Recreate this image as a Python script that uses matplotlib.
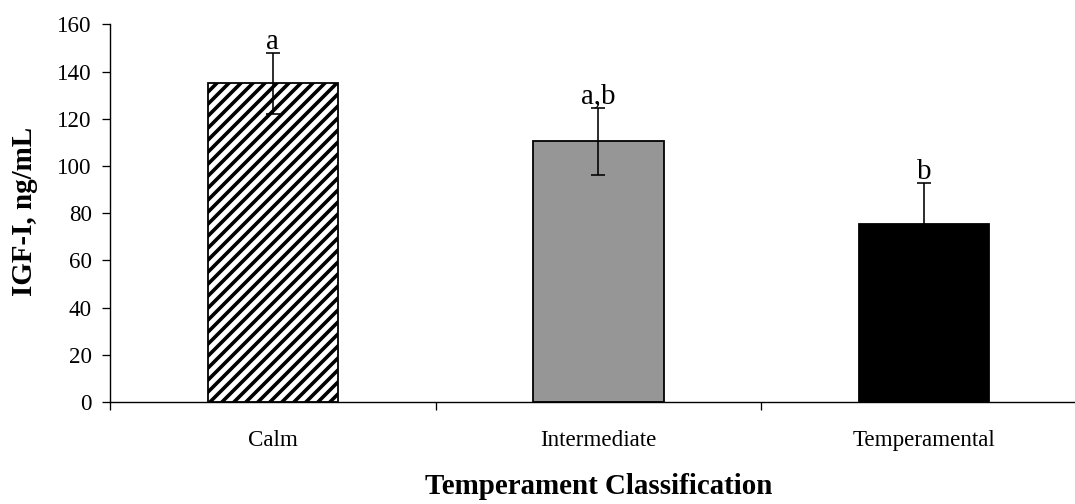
import numpy as np
import matplotlib
matplotlib.use("Agg")
import matplotlib.pyplot as plt

plt.rcParams['font.family'] = ['Liberation Serif', 'DejaVu Serif']
plt.rcParams['hatch.linewidth'] = 3.6

groups = ["Calm", "Intermediate", "Temperamental"]
igf = [135.0, 110.5, 75.5]
sem = [13.0, 14.3, 17.4]
letters = ["a", "a,b", "b"]

fills = ["white", "#969696", "black"]
hatches = ["//", None, None]

fig = plt.figure(figsize=(1075 / 72, 504 / 72), dpi=72)
ax = fig.add_axes([0.1023, 0.2024, 0.9088, 0.749])

x = np.arange(len(groups))
bars = ax.bar(x, igf, width=0.4, color=fills, edgecolor="black", linewidth=1.8)
for b, h in zip(bars, hatches):
    if h:
        b.set_hatch(h)

ax.errorbar(x, igf, yerr=sem, fmt="none", ecolor="black", elinewidth=1.6,
            capsize=7, capthick=1.6)

for xi, m, e, t in zip(x, igf, sem, letters):
    ax.annotate(t, (xi, m + e), xytext=(0, 4), textcoords="offset points",
                ha="center", va="baseline", fontsize=29)

ax.set_xlim(-0.5, 2.5)
ax.set_ylim(0, 160)
ax.set_yticks(np.arange(0, 161, 20))
ax.tick_params(axis="y", labelsize=23, length=8, width=1.3, pad=10, direction="out")

# ticks between categories, labels at centres
ax.set_xticks(np.arange(-0.5, 3, 1))
ax.set_xticklabels([])
ax.set_xticks(x, minor=True)
ax.set_xticklabels(groups, minor=True)
ax.tick_params(axis="x", which="major", length=8, width=1.3, direction="out")
ax.tick_params(axis="x", which="minor", length=0, labelsize=23, pad=28)

for s in ["top", "right"]:
    ax.spines[s].set_visible(False)
for s in ["left", "bottom"]:
    ax.spines[s].set_linewidth(1.4)

fig.text(25 / 1075, 1 - 211 / 504, "IGF-I, ng/mL", rotation=90, ha="center",
         va="center", fontsize=29, fontweight="bold")
fig.text(599 / 1075, 1 - 486 / 504, "Temperament Classification", ha="center",
         va="center", fontsize=29, fontweight="bold")

fig.savefig("out.png", dpi=72)
